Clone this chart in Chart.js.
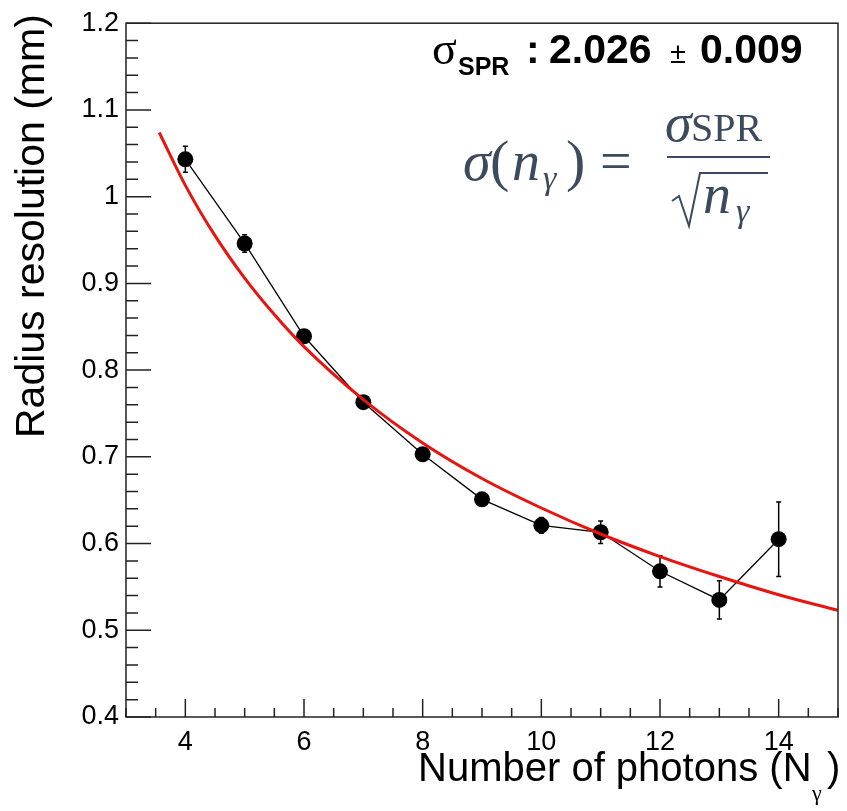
<!DOCTYPE html>
<html>
<head>
<meta charset="utf-8">
<script src="https://cdn.jsdelivr.net/npm/chart.js@4"></script>
<style>
  html, body { margin: 0; padding: 0; background: #fff; }
</style>
</head>
<body>
<canvas id="myChart" width="847" height="811"></canvas>
<script>
// measured points
const photons = [4, 5, 6, 7, 8, 9, 10, 11, 12, 13, 14];
const resolution = [1.043, 0.946, 0.839, 0.763, 0.703, 0.651, 0.621, 0.613, 0.568, 0.535, 0.605];
const resolutionErr = [0.015, 0.010, 0.006, 0.005, 0.004, 0.006, 0.009, 0.013, 0.018, 0.022, 0.043];

// red fit curve
const fitX = [3.56, 4, 4.5, 5, 5.5, 6, 7, 8, 9, 10, 11, 12, 13, 14, 15];
const fitY = [1.074, 1.013, 0.955, 0.906, 0.864, 0.827, 0.766, 0.716, 0.675, 0.641, 0.611, 0.585, 0.562, 0.541, 0.523];

const xTickLabels = ['4', '6', '8', '10', '12', '14'];
const yTickLabels = ['0.4', '0.5', '0.6', '0.7', '0.8', '0.9', '1', '1.1', '1.2'];

const sans = '"Liberation Sans", Arial, sans-serif';
const serif = '"Liberation Serif", "Times New Roman", serif';

const rootStyle = {
    id: 'rootStyle',
    beforeDatasetsDraw(chart) {
        const { ctx, scales: { x, y } } = chart;
        ctx.save();
        ctx.strokeStyle = '#000';
        ctx.lineWidth = 1.5;
        photons.forEach((p, i) => {
            const px = x.getPixelForValue(p);
            const top = y.getPixelForValue(resolution[i] + resolutionErr[i]);
            const bot = y.getPixelForValue(resolution[i] - resolutionErr[i]);
            ctx.beginPath();
            ctx.moveTo(px, top);
            ctx.lineTo(px, bot);
            ctx.moveTo(px - 2.5, top);
            ctx.lineTo(px + 2.5, top);
            ctx.moveTo(px - 2.5, bot);
            ctx.lineTo(px + 2.5, bot);
            ctx.stroke();
        });
        ctx.restore();
    },
    afterDraw(chart) {
        const { ctx, chartArea: a, scales: { x, y } } = chart;
        ctx.save();

        // frame
        ctx.strokeStyle = '#222';
        ctx.lineWidth = 1.5;
        ctx.strokeRect(a.left, a.top, a.right - a.left, a.bottom - a.top);

        // inward ticks
        ctx.beginPath();
        y.ticks.forEach(t => {
            const py = y.getPixelForValue(t.value);
            const len = t.label ? 25 : 12;
            ctx.moveTo(a.left, py);
            ctx.lineTo(a.left + len, py);
        });
        x.ticks.forEach(t => {
            const px = x.getPixelForValue(t.value);
            const len = t.label ? 18 : 9;
            ctx.moveTo(px, a.bottom);
            ctx.lineTo(px, a.bottom - len);
        });
        ctx.stroke();

        // axis titles
        ctx.fillStyle = '#000';
        ctx.font = '40px ' + sans;
        ctx.textBaseline = 'alphabetic';
        ctx.textAlign = 'left';
        ctx.fillText('Number of photons (N', 418, 781);
        ctx.fillText(')', 827, 781);
        ctx.font = '22px ' + serif;
        ctx.fillText('γ', 812, 800);

        ctx.save();
        ctx.translate(44, 438);
        ctx.rotate(-Math.PI / 2);
        ctx.font = '41px ' + sans;
        ctx.textAlign = 'left';
        ctx.fillText('Radius resolution (mm)', 0, 0);
        ctx.restore();

        // fit result
        ctx.textAlign = 'left';
        ctx.font = '46px ' + serif;
        ctx.fillText('σ', 432, 64);
        ctx.font = 'bold 25px ' + sans;
        ctx.fillText('SPR', 458, 75);
        ctx.font = 'bold 41px ' + sans;
        ctx.fillText(':', 526, 63);
        ctx.fillText('2.026', 549, 63);
        ctx.font = '29px ' + sans;
        ctx.fillText('±', 670, 63);
        ctx.font = 'bold 41px ' + sans;
        ctx.fillText('0.009', 700, 63);

        // formula
        ctx.fillStyle = '#3b4a5c';
        ctx.strokeStyle = '#3b4a5c';
        ctx.font = 'italic 56px ' + serif;
        ctx.fillText('σ', 463, 180);
        ctx.fillText('n', 512, 180);
        ctx.font = '58px ' + serif;
        ctx.fillText('(', 490, 180);
        ctx.fillText(')', 566, 180);
        ctx.font = '56px ' + serif;
        ctx.fillText('=', 600, 180);
        ctx.font = 'italic 34px ' + serif;
        ctx.fillText('γ', 543, 189);

        ctx.font = 'italic 54px ' + serif;
        ctx.fillText('σ', 665, 141);
        ctx.font = '40px ' + serif;
        ctx.fillText('SPR', 691, 141);
        ctx.lineWidth = 2;
        ctx.beginPath();
        ctx.moveTo(667, 157);
        ctx.lineTo(770, 157);
        ctx.stroke();

        ctx.beginPath();
        ctx.moveTo(672, 201);
        ctx.lineTo(679, 196);
        ctx.lineTo(689, 226);
        ctx.lineTo(700, 173);
        ctx.lineTo(768, 173);
        ctx.stroke();
        ctx.font = 'italic 56px ' + serif;
        ctx.fillText('n', 703, 213);
        ctx.font = 'italic 34px ' + serif;
        ctx.fillText('γ', 736, 222);

        ctx.restore();
    }
};

new Chart(document.getElementById('myChart'), {
    type: 'scatter',
    data: {
        datasets: [{
            label: 'fit',
            data: fitX.map((v, i) => ({ x: v, y: fitY[i] })),
            showLine: true,
            borderColor: '#e8140f',
            borderWidth: 3,
            pointRadius: 0,
            cubicInterpolationMode: 'monotone',
            order: 0
        }, {
            label: 'resolution',
            data: photons.map((v, i) => ({ x: v, y: resolution[i] })),
            showLine: true,
            borderColor: '#000',
            borderWidth: 1.3,
            pointRadius: 8,
            pointBackgroundColor: '#000',
            pointBorderWidth: 0,
            order: 1
        }]
    },
    options: {
        responsive: false,
        animation: false,
        events: [],
        layout: { padding: { top: 20, right: 7, left: 0, bottom: 0 } },
        plugins: { legend: { display: false }, tooltip: { enabled: false } },
        scales: {
            x: {
                type: 'linear',
                min: 3,
                max: 15,
                afterFit: s => { s.height = 94; },
                grid: { display: false, drawTicks: false },
                border: { display: false },
                ticks: {
                    stepSize: 0.5,
                    autoSkip: false,
                    maxRotation: 0,
                    padding: 9,
                    color: '#000',
                    font: { family: sans, size: 27 },
                    callback: v => {
                        const lbl = String(v);
                        return xTickLabels.includes(lbl) ? lbl : '';
                    }
                }
            },
            y: {
                min: 0.4,
                max: 1.2,
                afterFit: s => { s.width = 126; },
                grid: { display: false, drawTicks: false },
                border: { display: false },
                ticks: {
                    stepSize: 0.02,
                    autoSkip: false,
                    padding: 7,
                    color: '#000',
                    font: { family: sans, size: 27 },
                    callback: v => {
                        const lbl = String(Math.round(v * 100) / 100);
                        return yTickLabels.includes(lbl) ? lbl : '';
                    }
                }
            }
        }
    },
    plugins: [rootStyle]
});
</script>
</body>
</html>
